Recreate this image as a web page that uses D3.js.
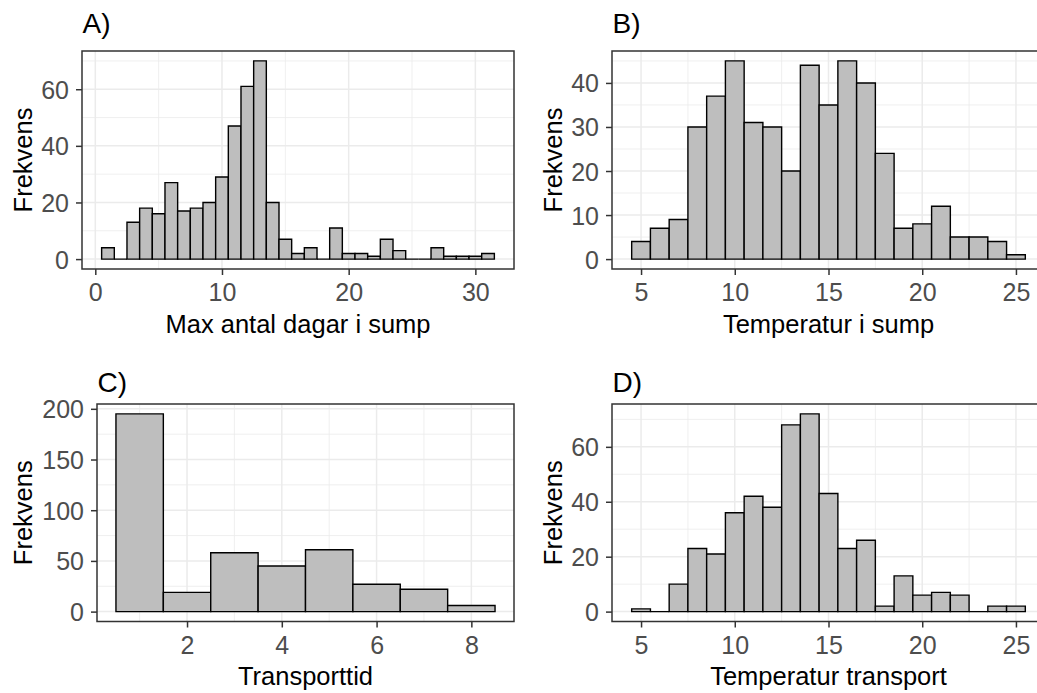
<!DOCTYPE html>
<html>
<head>
<meta charset="utf-8">
<script src="https://cdn.jsdelivr.net/npm/d3@7"></script>
<style>
  html, body { margin: 0; padding: 0; background: #fff; }
  svg { display: block; font-family: "Liberation Sans", Arial, sans-serif; }
</style>
</head>
<body>
<svg id="chart" width="1037" height="693"></svg>
<script>
// ---- Data (bin centers, bin width 1) ----
const binsA = [1,2,3,4,5,6,7,8,9,10,11,12,13,14,15,16,17,18,19,20,21,22,23,24,25,26,27,28,29,30,31];
const countsA = [4,0,13,18,16,27,17,18,20,29,47,61,70,20,7,2,4,0,11,2,2,1,7,3,0,0,4,1,1,1,2];
const ticksAx = [0,10,20,30];
const ticksAy = [0,20,40,60];

const binsB = [5,6,7,8,9,10,11,12,13,14,15,16,17,18,19,20,21,22,23,24,25];
const countsB = [4,7,9,30,37,45,31,30,20,44,35,45,40,24,7,8,12,5,5,4,1];
const ticksBx = [5,10,15,20,25];
const ticksBy = [0,10,20,30,40];

const binsC = [1,2,3,4,5,6,7,8];
const countsC = [195,19,58,45,61,27,22,6];
const ticksCx = [2,4,6,8];
const ticksCy = [0,50,100,150,200];

const binsD = [5,6,7,8,9,10,11,12,13,14,15,16,17,18,19,20,21,22,23,24,25];
const countsD = [1,0,10,23,21,36,42,38,68,72,43,23,26,2,13,6,7,6,0,2,2];
const ticksDx = [5,10,15,20,25];
const ticksDy = [0,20,40,60];

const titles = ["A)", "B)", "C)", "D)"];
const xLabels = ["Max antal dagar i sump", "Temperatur i sump", "Transporttid", "Temperatur transport"];
const yLabel = "Frekvens";
const binWidth = 1;

// ---- Layout ----
const panels = [
  {bins: binsA, counts: countsA, tx: ticksAx, ty: ticksAy, box: [82, 51, 514, 269], titleY: 33},
  {bins: binsB, counts: countsB, tx: ticksBx, ty: ticksBy, box: [612, 51, 1045, 269], titleY: 33},
  {bins: binsC, counts: countsC, tx: ticksCx, ty: ticksCy, box: [97, 404, 514, 621.5], titleY: 392},
  {bins: binsD, counts: countsD, tx: ticksDx, ty: ticksDy, box: [612, 404, 1045, 621.5], titleY: 392}
];
const yLabelX = [32, 562, 32, 562];

const svg = d3.select("#chart");

panels.forEach((p, i) => {
  const [x0, y0, x1, y1] = p.box;
  const lo = d3.min(p.bins) - binWidth / 2, hi = d3.max(p.bins) + binWidth / 2;
  const ex = (hi - lo) * 0.05;
  const x = d3.scaleLinear().domain([lo - ex, hi + ex]).range([x0, x1]);
  const ymax = d3.max(p.counts);
  const y = d3.scaleLinear().domain([-ymax * 0.05, ymax * 1.05]).range([y1, y0]);

  const g = svg.append("g");
  g.append("rect").attr("x", x0).attr("y", y0).attr("width", x1 - x0).attr("height", y1 - y0).attr("fill", "#fff");

  // minor grid
  const xd = x.domain(), yd = y.domain();
  const stepX = p.tx[1] - p.tx[0], stepY = p.ty[1] - p.ty[0];
  const minorX = [], minorY = [];
  for (let v = p.tx[0] - stepX / 2; v <= xd[1]; v += stepX) if (v >= xd[0]) minorX.push(v);
  for (let v = p.ty[0] - stepY / 2; v <= yd[1]; v += stepY) if (v >= yd[0]) minorY.push(v);
  g.selectAll(".mx").data(minorX).join("line")
    .attr("x1", d => x(d)).attr("x2", d => x(d)).attr("y1", y0).attr("y2", y1)
    .attr("stroke", "#EBEBEB").attr("stroke-width", 0.8);
  g.selectAll(".my").data(minorY).join("line")
    .attr("x1", x0).attr("x2", x1).attr("y1", d => y(d)).attr("y2", d => y(d))
    .attr("stroke", "#EBEBEB").attr("stroke-width", 0.8);
  // major grid
  g.selectAll(".gx").data(p.tx).join("line")
    .attr("x1", d => x(d)).attr("x2", d => x(d)).attr("y1", y0).attr("y2", y1)
    .attr("stroke", "#EBEBEB").attr("stroke-width", 1.5);
  g.selectAll(".gy").data(p.ty).join("line")
    .attr("x1", x0).attr("x2", x1).attr("y1", d => y(d)).attr("y2", d => y(d))
    .attr("stroke", "#EBEBEB").attr("stroke-width", 1.5);

  // bars (paths so zero-count bins still show their outline)
  g.selectAll(".bar").data(p.bins.map((b, k) => ({b, c: p.counts[k]}))).join("path")
    .attr("d", d => {
      const l = x(d.b - binWidth / 2), r = x(d.b + binWidth / 2), t = y(d.c), b0 = y(0);
      return `M${l},${b0}L${l},${t}L${r},${t}L${r},${b0}Z`;
    })
    .attr("fill", "#BEBEBE").attr("stroke", "#000").attr("stroke-width", 1.4)
    .attr("stroke-linejoin", "miter");

  // border
  g.append("rect").attr("x", x0).attr("y", y0).attr("width", x1 - x0).attr("height", y1 - y0)
    .attr("fill", "none").attr("stroke", "#333").attr("stroke-width", 1.5);

  // axes
  const ax = d3.axisBottom(x).tickValues(p.tx).tickFormat(d3.format("d")).tickSizeInner(6).tickSizeOuter(0).tickPadding(6);
  const gx = g.append("g").attr("transform", `translate(0,${y1})`).call(ax);
  const ay = d3.axisLeft(y).tickValues(p.ty).tickFormat(d3.format("d")).tickSizeInner(6).tickSizeOuter(0).tickPadding(7);
  const gy = g.append("g").attr("transform", `translate(${x0},0)`).call(ay);
  [gx, gy].forEach(a => {
    a.select(".domain").remove();
    a.selectAll(".tick line").attr("stroke", "#333").attr("stroke-width", 1.5);
    a.selectAll(".tick text").attr("fill", "#4D4D4D").attr("font-size", 25);
  });
  gx.selectAll(".tick text").attr("dy", null).attr("y", 32).attr("dominant-baseline", "auto");
  gy.selectAll(".tick text").attr("dy", "0.36em");

  // titles and labels
  g.append("text").attr("x", x0 + 0.5).attr("y", p.titleY).attr("font-size", 28).attr("fill", "#000").text(titles[i]);
  g.append("text").attr("x", (x0 + x1) / 2).attr("y", y1 + 63.5).attr("text-anchor", "middle")
    .attr("font-size", 25.5).attr("fill", "#000").text(xLabels[i]);
  g.append("text").attr("transform", `translate(${yLabelX[i]},${(y0 + y1) / 2}) rotate(-90)`)
    .attr("text-anchor", "middle").attr("font-size", 25.5).attr("fill", "#000").text(yLabel);
});
</script>
</body>
</html>
